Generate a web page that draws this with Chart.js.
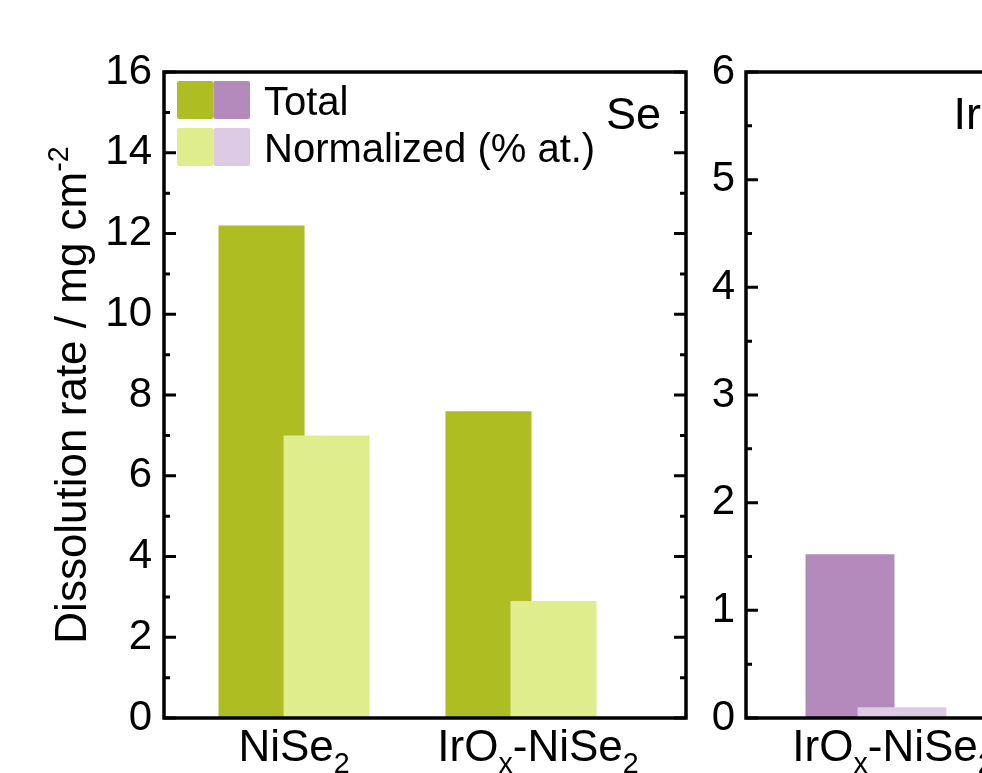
<!DOCTYPE html>
<html>
<head>
<meta charset="utf-8">
<title>Dissolution rate</title>
<script src="https://cdn.jsdelivr.net/npm/chart.js@4.4.1/dist/chart.umd.min.js"></script>
<style>
  html, body { margin: 0; padding: 0; background: #fff; overflow: hidden; }
  #stage { position: relative; width: 982px; height: 773px; overflow: hidden; background: #fff; }
  .panel { position: absolute; top: 0; }
</style>
</head>
<body>
<div id="stage">
  <canvas id="sePanel" class="panel" style="left:0px" width="700" height="773"></canvas>
  <canvas id="irPanel" class="panel" style="left:690px" width="340" height="773"></canvas>
</div>
<script>
// ---- data -------------------------------------------------------------
const seriesNames = ['Total', 'Normalized (% at.)'];

// Se panel
const seCategories = ['NiSe_2', 'IrO_x-NiSe_2'];
const sePositions = [1, 2];
const seTotal = [12.2, 7.6];
const seNormalized = [7.0, 2.9];
const seTicks = [0, 2, 4, 6, 8, 10, 12, 14, 16];

// Ir panel
const irCategories = ['IrO_x-NiSe_2'];
const irPositions = [1];
const irTotal = [1.52];
const irNormalized = [0.1];
const irTicks = [0, 1, 2, 3, 4, 5, 6];

const yTitle = 'Dissolution rate / mg cm^{-2}';

// ---- styling ----------------------------------------------------------
const FONT = '"Liberation Sans", Arial, Helvetica, sans-serif';
const seColors = ['#adbd22', '#dfed8c'];
const irColors = ['#b48abc', '#ddcbe6'];

// split "NiSe_2" / "cm^{-2}" into normal, subscript and superscript runs
function parseRich(s) {
  const parts = [];
  let buf = '';
  let i = 0;
  while (i < s.length) {
    const c = s[i];
    if (c === '_' || c === '^') {
      if (buf) { parts.push({ t: buf, k: 0 }); buf = ''; }
      let t;
      if (s[i + 1] === '{') {
        const j = s.indexOf('}', i);
        t = s.slice(i + 2, j);
        i = j + 1;
      } else {
        t = s[i + 1];
        i += 2;
      }
      parts.push({ t, k: c === '_' ? 1 : -1 });
    } else {
      buf += c;
      i++;
    }
  }
  if (buf) parts.push({ t: buf, k: 0 });
  return parts;
}

function drawRich(ctx, text, x, y, size, align) {
  const parts = parseRich(text);
  let w = 0;
  parts.forEach(p => {
    p.size = p.k ? size * 0.65 : size;
    ctx.font = p.size + 'px ' + FONT;
    p.w = ctx.measureText(p.t).width;
    w += p.w;
  });
  let cx = align === 'center' ? x - w / 2 : align === 'right' ? x - w : x;
  ctx.textAlign = 'left';
  ctx.textBaseline = 'alphabetic';
  parts.forEach(p => {
    ctx.font = p.size + 'px ' + FONT;
    const dy = p.k === 1 ? size * 0.27 : p.k === -1 ? -size * 0.42 : 0;
    ctx.fillText(p.t, cx, y + dy);
    cx += p.w;
  });
}

// normalized bars overlap the total bars, so they are painted after them
const overlapOrder = {
  id: 'overlapOrder',
  beforeDatasetDraw(chart, args) {
    if (args.index === 1 && !chart.$lateDraw) return false;
  },
  afterDatasetsDraw(chart) {
    chart.$lateDraw = true;
    chart.getDatasetMeta(1).controller.draw();
    chart.$lateDraw = false;
  }
};

// axis frame with inward major / minor ticks
const frameTicks = {
  id: 'frameTicks',
  afterDatasetsDraw(chart, args, opts) {
    const { ctx, chartArea: a } = chart;
    const y = chart.scales.y;
    ctx.save();
    ctx.strokeStyle = '#000';
    ctx.lineCap = 'butt';
    ctx.lineWidth = 3;
    const major = opts.major;
    const minor = [];
    for (let i = 0; i < major.length - 1; i++) minor.push((major[i] + major[i + 1]) / 2);
    const tick = (v, len) => {
      const py = y.getPixelForValue(v);
      ctx.beginPath();
      ctx.moveTo(a.left, py); ctx.lineTo(a.left + len, py);
      ctx.moveTo(a.right, py); ctx.lineTo(a.right - len, py);
      ctx.stroke();
    };
    major.forEach(v => tick(v, 12));
    minor.forEach(v => tick(v, 6));
    ctx.lineWidth = 3.5;
    ctx.strokeRect(a.left, a.top, a.right - a.left, a.bottom - a.top);
    ctx.restore();
  }
};

// category labels, element tag, legend and the y title
const annotations = {
  id: 'annotations',
  afterDraw(chart, args, opts) {
    const { ctx, chartArea: a } = chart;
    const x = chart.scales.x;
    ctx.save();
    ctx.fillStyle = '#000';
    opts.categories.forEach((c, i) => {
      const px = x.getPixelForValue(opts.positions[i]) + (opts.labelShift[i] || 0);
      drawRich(ctx, c, px, 761, 44, 'center');
    });
    ctx.font = '45px ' + FONT;
    ctx.textAlign = 'right';
    ctx.textBaseline = 'alphabetic';
    ctx.fillText(opts.tag, a.right - 25, 129);

    if (opts.legend) {
      const rows = [[seColors[0], irColors[0]], [seColors[1], irColors[1]]];
      rows.forEach((cols, r) => {
        const top = 81 + r * 47;
        cols.forEach((col, j) => {
          ctx.fillStyle = col;
          ctx.beginPath();
          ctx.roundRect(177 + j * 36.5, top, 36.5, 38, 2);
          ctx.fill();
        });
        ctx.fillStyle = '#000';
        ctx.font = '40px ' + FONT;
        ctx.textAlign = 'left';
        ctx.fillText(seriesNames[r], 264, top + 34);
      });
    }
    if (opts.yTitle) {
      ctx.translate(86, (a.top + a.bottom) / 2);
      ctx.rotate(-Math.PI / 2);
      drawRich(ctx, opts.yTitle, 0, 0, 44, 'center');
    }
    ctx.restore();
  }
};

function makePanel(canvasId, cfg) {
  const toPoints = (vals) => vals.map((v, i) => ({ x: cfg.positions[i], y: v }));
  return new Chart(document.getElementById(canvasId), {
    type: 'bar',
    data: {
      datasets: [
        { label: seriesNames[0], data: toPoints(cfg.total), backgroundColor: cfg.colors[0], borderWidth: 0 },
        { label: seriesNames[1], data: toPoints(cfg.normalized), backgroundColor: cfg.colors[1], borderWidth: 0 }
      ]
    },
    options: {
      responsive: false,
      animation: false,
      events: [],
      categoryPercentage: cfg.catPct,
      barPercentage: cfg.barPct,
      layout: { padding: { top: 72, right: cfg.padRight, bottom: 55, left: 0 } },
      plugins: {
        legend: { display: false },
        tooltip: { enabled: false },
        frameTicks: { major: cfg.ticks },
        annotations: {
          categories: cfg.categories,
          positions: cfg.positions,
          labelShift: cfg.labelShift,
          tag: cfg.tag,
          legend: cfg.legend,
          yTitle: cfg.yTitle
        }
      },
      scales: {
        x: {
          type: 'linear',
          display: false,
          offset: false,
          min: cfg.xMin,
          max: cfg.xMax,
          afterBuildTicks: (s) => { s.ticks = cfg.positions.map(v => ({ value: v })); }
        },
        y: {
          type: 'linear',
          min: cfg.ticks[0],
          max: cfg.ticks[cfg.ticks.length - 1],
          grid: { display: false, drawTicks: false },
          border: { display: false },
          afterBuildTicks: (s) => { s.ticks = cfg.ticks.map(v => ({ value: v })); },
          afterFit: (s) => { s.width = cfg.axisWidth; },
          ticks: {
            color: '#000',
            padding: cfg.tickPad,
            font: { family: FONT, size: 42 },
            callback: (v) => String(v)
          }
        }
      }
    },
    plugins: [overlapOrder, frameTicks, annotations]
  });
}

makePanel('sePanel', {
  categories: seCategories, positions: sePositions,
  total: seTotal, normalized: seNormalized, ticks: seTicks,
  colors: seColors, tag: 'Se', legend: true, yTitle: yTitle,
  xMin: 0.427, xMax: 2.727, catPct: 0.573, barPct: 1.323,
  padRight: 14, axisWidth: 164, tickPad: 12, labelShift: [0, 17]
});

makePanel('irPanel', {
  categories: irCategories, positions: irPositions,
  total: irTotal, normalized: irNormalized, ticks: irTicks,
  colors: irColors, tag: 'Ir', legend: false, yTitle: null,
  xMin: 0.5, xMax: 1.5, catPct: 0.4, barPct: 1.71,
  padRight: 24, axisWidth: 56, tickPad: 11, labelShift: [17]
});
</script>
</body>
</html>
